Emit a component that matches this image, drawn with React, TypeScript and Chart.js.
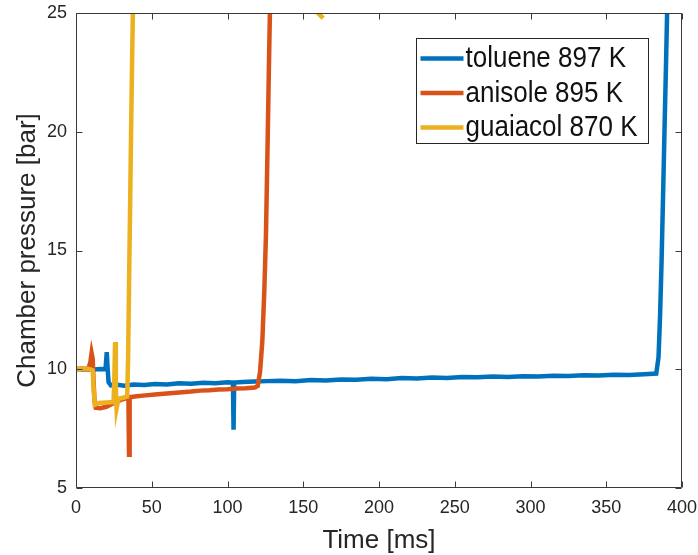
import React, { useEffect, useRef } from "react";
import { Chart, registerables } from "chart.js";

Chart.register(...registerables);

const xTicks = [0, 50, 100, 150, 200, 250, 300, 350, 400];
const yTicks = [5, 10, 15, 20, 25];

const seriesLabels = ["toluene 897 K", "anisole 895 K", "guaiacol 870 K"];
const seriesColors = ["#0072BD", "#D95319", "#EDB120"];

const tolueneTime = [
  0, 4, 8, 12, 16, 19.5, 20.3, 20.8, 21.5, 23, 27, 32, 38, 45, 52, 60, 68, 76, 84, 92,
  100, 103.6, 104, 104.4, 110, 118, 126, 135, 145, 155, 165, 175, 185, 195, 205, 215, 225, 235, 245, 255,
  265, 275, 285, 295, 305, 315, 325, 335, 345, 355, 365, 375, 383, 384.5, 385.5, 386.5, 387.5, 388.5, 389.5, 390.5,
  392,
];
const toluenePressure = [
  10.02, 9.98, 10.03, 9.99, 10.01, 10.0, 10.72, 10.1, 9.45, 9.32, 9.35, 9.31, 9.36, 9.34, 9.38, 9.36, 9.41, 9.39, 9.43, 9.41,
  9.45, 9.44, 7.45, 9.44, 9.46, 9.48, 9.5, 9.52, 9.5, 9.55, 9.53, 9.57, 9.56, 9.6, 9.58, 9.63, 9.61, 9.65, 9.63, 9.67,
  9.66, 9.69, 9.67, 9.71, 9.7, 9.73, 9.72, 9.75, 9.74, 9.77, 9.76, 9.79, 9.82, 10.5, 12.2, 14.5, 17.3, 20.2, 23.0, 26.0,
  31,
];

const anisoleTime = [
  0, 4, 8, 9.5, 10.3, 11, 11.6, 12.2, 13, 16, 20, 25, 30, 34.6, 35, 35.4, 40, 46, 52, 58,
  64, 70, 76, 82, 88, 94, 100, 106, 112, 118, 120, 121.5, 123, 124.3, 125.4, 126.5, 127.3, 128.1, 129.5,
];
const anisolePressure = [
  10.0, 10.03, 9.98, 10.3, 10.68, 10.45, 9.5, 8.7, 8.38, 8.36, 8.42, 8.58, 8.72, 8.8, 6.4, 8.82, 8.86, 8.9, 8.94, 8.97,
  9.0, 9.03, 9.06, 9.1, 9.12, 9.15, 9.16, 9.19, 9.2, 9.23, 9.3, 9.9, 11.2, 13.3, 15.7, 19.6, 22.6, 25.4, 30,
];

const guaiacolTime = [
  0, 3, 6, 9, 11, 11.8, 12.4, 15, 20, 24.8, 25.3, 25.8, 26.3, 26.8, 28, 31, 33.8, 34.4, 35, 35.7,
  36.4, 37.1, 37.7, 38.5, 60, 100, 150, 157, 160, 163.2,
];
const guaiacolPressure = [
  10.05, 9.98, 10.04, 10.0, 9.95, 9.0, 8.5, 8.58, 8.6, 8.62, 9.6, 11.15, 9.2, 8.35, 8.75, 8.8, 8.85, 10.5, 13.5, 16.8,
  20.2, 23.3, 25.6, 30, 45, 40, 26.5, 25.2, 24.98, 24.78,
];

const FONT = "'Liberation Sans', Arial, sans-serif";
const TEXT = "#262626";
const AXIS = "#3a3a3a";

const toPoints = (t: number[], p: number[]) => t.map((v, i) => ({ x: v, y: p[i] }));

const boxPlugin = {
  id: "matlabBox",
  afterDatasetsDraw(chart: any) {
    const { ctx, chartArea, scales } = chart;
    const { left, right, top, bottom } = chartArea;
    const L = Math.round(left) + 0.5;
    const R = Math.round(right) - 0.5;
    const T = Math.round(top) + 0.5;
    const B = Math.round(bottom) - 0.5;
    ctx.save();
    ctx.strokeStyle = AXIS;
    ctx.lineWidth = 1;
    ctx.beginPath();
    ctx.rect(L, T, R - L, B - T);
    const tl = 6;
    xTicks.forEach((v) => {
      const px = Math.round(scales.x.getPixelForValue(v)) + 0.5;
      ctx.moveTo(px, B);
      ctx.lineTo(px, B - tl);
      ctx.moveTo(px, T);
      ctx.lineTo(px, T + tl);
    });
    yTicks.forEach((v) => {
      const py = Math.round(scales.y.getPixelForValue(v)) + 0.5;
      ctx.moveTo(L, py);
      ctx.lineTo(L + tl, py);
      ctx.moveTo(R, py);
      ctx.lineTo(R - tl, py);
    });
    ctx.stroke();

    // legend
    const bx = 416.5;
    const by = 38.5;
    const bw = 232;
    const bh = 105;
    ctx.fillStyle = "#ffffff";
    ctx.fillRect(bx, by, bw, bh);
    ctx.strokeStyle = "#262626";
    ctx.strokeRect(bx, by, bw, bh);
    ctx.font = `26px ${FONT}`;
    ctx.textBaseline = "middle";
    ctx.textAlign = "left";
    seriesLabels.forEach((lab, i) => {
      const ry = by + 20 + i * 34.5;
      ctx.strokeStyle = seriesColors[i];
      ctx.lineWidth = 4.5;
      ctx.beginPath();
      ctx.moveTo(bx + 4, ry);
      ctx.lineTo(bx + 47, ry);
      ctx.stroke();
      ctx.fillStyle = "#111";
      ctx.save();
      ctx.translate(bx + 49, ry + 1);
      ctx.scale(1, 1.1);
      ctx.fillText(lab, 0, 0);
      ctx.restore();
    });
    ctx.restore();
  },
};

export default function App() {
  const ref = useRef<HTMLCanvasElement>(null);
  useEffect(() => {
    if (!ref.current) return;
    const series = [
      toPoints(tolueneTime, toluenePressure),
      toPoints(anisoleTime, anisolePressure),
      toPoints(guaiacolTime, guaiacolPressure),
    ];
    const chart = new Chart(ref.current, {
      type: "line",
      data: {
        datasets: series.map((d, i) => ({
          label: seriesLabels[i],
          data: d,
          borderColor: seriesColors[i],
          backgroundColor: seriesColors[i],
          borderWidth: 4.5,
          pointRadius: 0,
          tension: 0,
          fill: false,
          clip: 0,
          order: 3 - i,
        })),
      },
      options: {
        responsive: false,
        animation: false,
        layout: { padding: { top: 13, right: 16, left: 0, bottom: 0 } },
        plugins: { legend: { display: false }, tooltip: { enabled: false } },
        scales: {
          x: {
            type: "linear",
            min: 0,
            max: 400,
            afterBuildTicks: (s: any) => {
              s.ticks = xTicks.map((v) => ({ value: v }));
            },
            afterFit: (s: any) => {
              s.height = 67;
              s.paddingLeft = 0;
              s.paddingRight = 0;
              s.paddingTop = 0;
              s.paddingBottom = 0;
            },
            ticks: {
              font: { family: FONT, size: 18 },
              color: TEXT,
              padding: 9,
              maxRotation: 0,
              autoSkip: false,
            },
            grid: { display: false, drawTicks: false },
            border: { display: false },
            title: {
              display: true,
              text: "Time [ms]",
              color: TEXT,
              font: { family: FONT, size: 26, lineHeight: 1 },
              padding: { top: 0, bottom: 1 },
            },
          },
          y: {
            type: "linear",
            min: 5,
            max: 25,
            afterBuildTicks: (s: any) => {
              s.ticks = yTicks.map((v) => ({ value: v }));
            },
            afterFit: (s: any) => {
              s.width = 76;
              s.paddingLeft = 0;
              s.paddingRight = 0;
              s.paddingTop = 0;
              s.paddingBottom = 0;
            },
            ticks: {
              font: { family: FONT, size: 18 },
              color: TEXT,
              padding: 9,
              autoSkip: false,
            },
            grid: { display: false, drawTicks: false },
            border: { display: false },
            title: {
              display: true,
              text: "Chamber pressure [bar]",
              color: TEXT,
              font: { family: FONT, size: 26, lineHeight: 1 },
              padding: { top: 15, bottom: 0 },
            },
          },
        },
      },
      plugins: [boxPlugin],
    });
    return () => chart.destroy();
  }, []);
  return (
    <div style={{ position: "absolute", left: 0, top: 0, width: 698, height: 555, background: "#fff" }}>
      <canvas ref={ref} width={698} height={555} style={{ display: "block" }} />
    </div>
  );
}
